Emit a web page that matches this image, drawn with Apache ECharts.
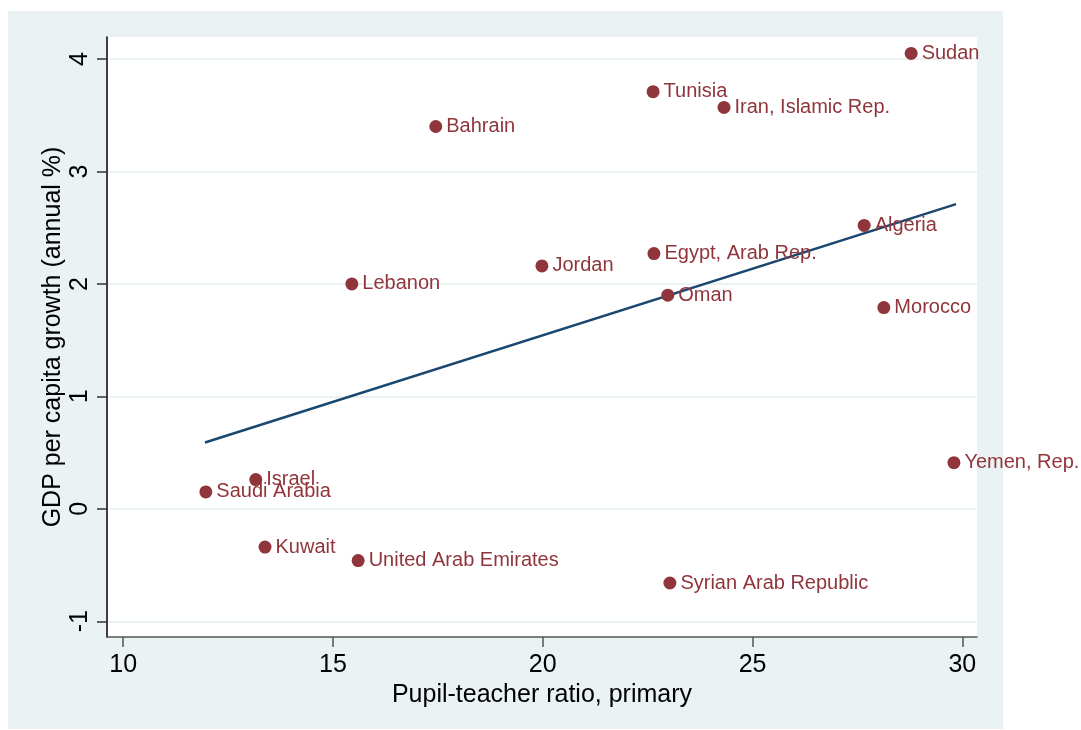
<!DOCTYPE html>
<html>
<head>
<meta charset="utf-8">
<script src="https://cdn.jsdelivr.net/npm/echarts@6/dist/echarts.min.js"></script>
<style>
html,body{margin:0;padding:0;background:#ffffff;}
#bg{position:absolute;left:8px;top:11px;width:995px;height:718px;background:#EAF2F3;}
#chart{position:absolute;left:0;top:0;width:1081px;height:730px;}
</style>
</head>
<body>
<div id="bg"></div>
<div id="chart"></div>
<script>
const countries = ["Sudan","Tunisia","Iran, Islamic Rep.","Bahrain","Algeria","Egypt, Arab Rep.","Jordan","Lebanon","Oman","Morocco","Yemen, Rep.","Israel","Saudi Arabia","Kuwait","United Arab Emirates","Syrian Arab Republic"];
const pupilTeacher = [28.78,22.63,24.32,17.45,27.66,22.65,19.98,15.45,22.98,28.13,29.80,13.16,11.97,13.38,15.60,23.03];
const gdpGrowth = [4.05,3.71,3.57,3.40,2.52,2.27,2.16,2.00,1.90,1.79,0.41,0.26,0.15,-0.34,-0.46,-0.66];
const fitX = [11.95,29.85];
const fitY = [0.59,2.71];
const xTicks = [10,15,20,25,30];
const yTicks = [-1,0,1,2,3,4];
const xTitle = "Pupil-teacher ratio, primary";
const yTitle = "GDP per capita growth (annual %)";

const FONT = "'Liberation Sans', Arial, Helvetica, sans-serif";
const maroon = "#90353B";
const navy = "#1A476F";

const scatterData = countries.map((c,i)=>({name:c, value:[pupilTeacher[i], gdpGrowth[i]]}));
const lineData = fitX.map((x,i)=>[x, fitY[i]]);

const chart = echarts.init(document.getElementById('chart'), null, {renderer:'canvas'});
chart.setOption({
  backgroundColor: 'transparent',
  animation: false,
  textStyle: {fontFamily: FONT},
  grid: {left:107, right:104, top:37, bottom:93, show:true, backgroundColor:'#ffffff', borderWidth:0},
  xAxis: {
    type:'value', min:9.614, max:30.35,
    name: xTitle, nameLocation:'middle', nameGap:32,
    nameTextStyle:{fontSize:25, color:'#000', fontFamily:FONT},
    axisLine:{show:true, onZero:false, lineStyle:{color:'#555', width:1.5}},
    axisTick:{show:true, length:10, customValues:xTicks, lineStyle:{color:'#555', width:1.5}},
    axisLabel:{customValues:xTicks, fontSize:25, color:'#000', margin:16, fontFamily:FONT},
    splitLine:{show:false}
  },
  yAxis: {
    type:'value', min:-1.14, max:4.196, splitNumber:5,
    name: yTitle, nameLocation:'middle', nameGap:41, nameRotate:90, nameMoveOverlap:false,
    nameTextStyle:{fontSize:25, color:'#000', fontFamily:FONT},
    axisLine:{show:true, onZero:false, lineStyle:{color:'#000', width:1.5}},
    axisTick:{show:true, length:10, customValues:yTicks, lineStyle:{color:'#333', width:1.5}},
    axisLabel:{customValues:yTicks, fontSize:25, color:'#000', margin:14, rotate:90, fontFamily:FONT},
    splitLine:{show:true, lineStyle:{color:'#EAF2F3', width:2}}
  },
  series: [
    {
      type:'line', data: lineData, symbol:'none', z:3,
      lineStyle:{color:navy, width:2.5}
    },
    {
      type:'scatter', data: scatterData, symbolSize:13, z:4,
      itemStyle:{color:maroon, opacity:1},
      label:{show:true, position:'right', distance:4, formatter:p=>p.name, fontSize:20, color:maroon, fontFamily:FONT}
    }
  ]
});
</script>
</body>
</html>
